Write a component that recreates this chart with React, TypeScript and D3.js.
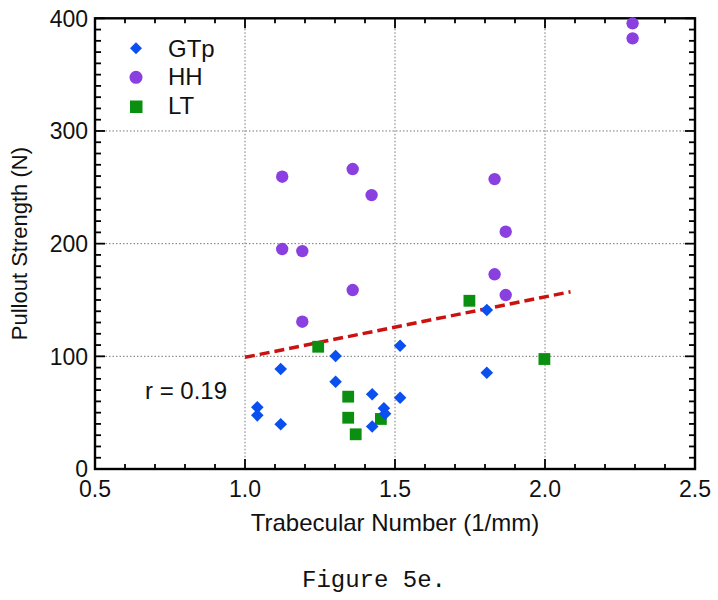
import React from "react";
import * as d3 from "d3";

const gtpX = [1.041, 1.041, 1.119, 1.119, 1.302, 1.302, 1.424, 1.424, 1.463, 1.467, 1.517, 1.517, 1.806, 1.806];
const gtpY = [54.7, 47.6, 88.7, 39.7, 100.3, 77.5, 66.3, 37.7, 53.9, 49.0, 109.4, 63.3, 141.1, 85.4];

const hhX = [1.124, 1.124, 1.191, 1.191, 1.359, 1.359, 1.422, 1.832, 1.832, 1.869, 1.869, 2.292, 2.292];
const hhY = [259.4, 195.2, 193.4, 130.7, 266.2, 158.8, 243.1, 257.3, 172.8, 210.6, 154.4, 395.5, 382.2];

const ltX = [1.244, 1.344, 1.344, 1.369, 1.453, 1.748, 1.998];
const ltY = [108.5, 64.2, 45.5, 30.8, 44.4, 149.3, 97.6];

const fitX = [1.0, 2.085];
const fitY = [99.1, 157.3];

const xTicks = [0.5, 1.0, 1.5, 2.0, 2.5];
const yTicks = [0, 100, 200, 300, 400];
const seriesNames = ["GTp", "HH", "LT"];

const BLUE = "#0a4ff0";
const PURPLE = "#8a3fe0";
const GREEN = "#0b8f10";
const RED = "#cc1111";

export default function App() {
  const L = 95, R = 695, T = 18.3, B = 469;
  const x = d3.scaleLinear().domain([0.5, 2.5]).range([L, R]);
  const y = d3.scaleLinear().domain([0, 400]).range([B, T]);
  const xMinor = d3.range(0.5, 2.5001, 0.1).map((v) => +v.toFixed(2));
  const yMinor = d3.range(0, 400.01, 10);
  const font = "'Liberation Sans', Arial, sans-serif";
  const line = d3.line<number>().x((_, i) => x(fitX[i])).y((d) => y(d));
  const diamond = (cx: number, cy: number, r = 6.3) =>
    `M${cx},${cy - r}L${cx + r},${cy}L${cx},${cy + r}L${cx - r},${cy}Z`;

  return (
    <svg width={718} height={600} style={{ position: "absolute", left: 0, top: 0, background: "#fff" }}>
      <rect x={0} y={0} width={718} height={600} fill="#fff" />
      {/* grid */}
      {xTicks.filter((v) => v > 0.5 && v < 2.5).map((v) => (
        <line key={"gx" + v} x1={x(v)} x2={x(v)} y1={T} y2={B} stroke="#777" strokeWidth={1} strokeDasharray="1.5,2" />
      ))}
      {yTicks.filter((v) => v > 0 && v < 400).map((v) => (
        <line key={"gy" + v} x1={L} x2={R} y1={y(v)} y2={y(v)} stroke="#777" strokeWidth={1} strokeDasharray="1.5,2" />
      ))}
      {/* minor ticks */}
      {xMinor.map((v) => {
        const major = xTicks.some((t) => Math.abs(t - v) < 1e-6);
        const len = major ? 10 : 5;
        return (
          <g key={"xt" + v}>
            <line x1={x(v)} x2={x(v)} y1={B} y2={B - len} stroke="#000" strokeWidth={1.8} />
            <line x1={x(v)} x2={x(v)} y1={T} y2={T + len} stroke="#000" strokeWidth={1.8} />
          </g>
        );
      })}
      {yMinor.map((v) => {
        const major = yTicks.some((t) => Math.abs(t - v) < 1e-6);
        const len = major ? 10 : 6;
        return (
          <g key={"yt" + v}>
            <line x1={L} x2={L + len} y1={y(v)} y2={y(v)} stroke="#000" strokeWidth={1.8} />
            <line x1={R} x2={R - len} y1={y(v)} y2={y(v)} stroke="#000" strokeWidth={1.8} />
          </g>
        );
      })}
      {/* frame */}
      <rect x={L} y={T} width={R - L} height={B - T} fill="none" stroke="#000" strokeWidth={2.4} />
      {/* tick labels */}
      {xTicks.map((v) => (
        <text key={"xl" + v} x={x(v)} y={497} textAnchor="middle" fontFamily={font} fontSize={23} fill="#111">
          {v.toFixed(1)}
        </text>
      ))}
      {yTicks.map((v) => (
        <text key={"yl" + v} x={88} y={y(v) + 8.3} textAnchor="end" fontFamily={font} fontSize={23} fill="#111">
          {v}
        </text>
      ))}
      {/* axis titles */}
      <text x={(L + R) / 2} y={531} textAnchor="middle" fontFamily={font} fontSize={24} fill="#111">
        Trabecular Number (1/mm)
      </text>
      <text transform={`translate(27,${(T + B) / 2}) rotate(-90)`} textAnchor="middle" fontFamily={font} fontSize={22} fill="#111">
        Pullout Strength (N)
      </text>
      {/* fit line */}
      <path d={line(fitY) || ""} fill="none" stroke={RED} strokeWidth={3.5} strokeDasharray="10,5" />
      {/* data */}
      {hhX.map((v, i) => (
        <circle key={"hh" + i} cx={x(v)} cy={y(hhY[i])} r={6.2} fill={PURPLE} />
      ))}
      {ltX.map((v, i) => (
        <rect key={"lt" + i} x={x(v) - 5.9} y={y(ltY[i]) - 5.9} width={11.8} height={11.8} fill={GREEN} />
      ))}
      {gtpX.map((v, i) => (
        <path key={"gt" + i} d={diamond(x(v), y(gtpY[i]))} fill={BLUE} />
      ))}
      {/* r label */}
      <text x={145} y={399} fontFamily={font} fontSize={24} fill="#111">r = 0.19</text>
      {/* legend */}
      <path d={diamond(136, 48.3, 6)} fill={BLUE} />
      <circle cx={136} cy={77.3} r={6.5} fill={PURPLE} />
      <rect x={130} y={100.5} width={12.5} height={12.5} fill={GREEN} />
      {seriesNames.map((s, i) => (
        <text key={s} x={168} y={57 + i * 28.3} fontFamily={font} fontSize={24} fill="#111">{s}</text>
      ))}
      {/* caption */}
      <text x={374} y={587} textAnchor="middle" fontFamily="'Liberation Mono', 'Courier New', monospace" fontSize={24} fill="#111">
        Figure 5e.
      </text>
    </svg>
  );
}
